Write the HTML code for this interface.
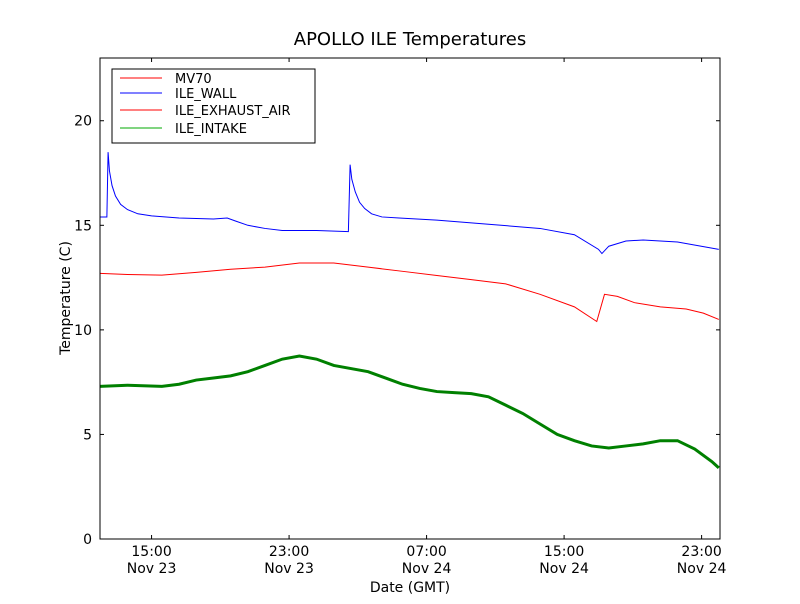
<!DOCTYPE html>
<html><head><meta charset="utf-8"><style>
body{margin:0;background:#fff;font-family:"DejaVu Sans","Liberation Sans",sans-serif}
svg text{font-family:"DejaVu Sans","Liberation Sans",sans-serif}
</style></head><body>
<svg id="c" width="800" height="600">
<rect x="0" y="0" width="800" height="600" fill="#fff"/>
<text x="410" y="45" font-size="18" text-anchor="middle">APOLLO ILE Temperatures</text>
<g id="plot"></g>
<text x="410" y="592" font-size="14" text-anchor="middle">Date (GMT)</text>
<text transform="translate(70,298) rotate(-90)" font-size="14" text-anchor="middle">Temperature (C)</text>
<g>
<rect x="112" y="69" width="203" height="74" fill="#fff" stroke="#000"/>
<line x1="120" y1="78" x2="162" y2="78" stroke="red"/><text x="175" y="83" font-size="13">MV70</text>
<line x1="120" y1="93" x2="162" y2="93" stroke="blue"/><text x="175" y="98" font-size="13">ILE_WALL</text>
<line x1="120" y1="110" x2="162" y2="110" stroke="red"/><text x="175" y="115" font-size="13">ILE_EXHAUST_AIR</text>
<line x1="120" y1="128" x2="162" y2="128" stroke="#0a0"/><text x="175" y="133" font-size="13">ILE_INTAKE</text>
</g>
</svg>
<script>
const wallX=[12.0,12.4,12.47,12.55,12.7,12.9,13.2,13.6,14.2,15,16.6,18.6,19.4,19.9,20.6,21.6,22.6,24.6,26.45,26.55,26.65,26.85,27.1,27.4,27.8,28.4,29.4,31.6,34.6,37.6,39.6,41.0,41.2,41.6,42.6,43.6,45.6,48.0];
const wallY=[15.4,15.4,18.5,17.6,16.9,16.4,16.0,15.75,15.55,15.45,15.35,15.3,15.35,15.2,15.0,14.85,14.75,14.75,14.7,17.9,17.2,16.6,16.1,15.8,15.55,15.4,15.35,15.25,15.05,14.85,14.55,13.85,13.65,14.0,14.25,14.3,14.2,13.85];
const exhX=[12.0,13.6,15.6,17.6,19.6,21.6,23.6,25.6,27.6,29.6,31.6,33.6,35.6,37.6,39.6,40.9,41.35,42.1,43.1,44.6,46.1,47.1,48.0];
const exhY=[12.7,12.65,12.62,12.75,12.9,13.0,13.2,13.2,13.0,12.8,12.6,12.4,12.2,11.7,11.1,10.4,11.7,11.6,11.3,11.1,11.0,10.8,10.5];
const intX=[12.0,13.6,15.6,16.6,17.6,18.6,19.6,20.6,21.6,22.6,23.6,24.6,25.6,26.6,27.6,28.6,29.6,30.6,31.6,32.6,33.6,34.6,35.6,36.6,37.6,38.6,39.6,40.6,41.6,42.6,43.6,44.6,45.6,46.6,47.6,48.0];
const intY=[7.3,7.35,7.3,7.4,7.6,7.7,7.8,8.0,8.3,8.6,8.75,8.6,8.3,8.15,8.0,7.7,7.4,7.2,7.05,7.0,6.95,6.8,6.4,6.0,5.5,5.0,4.7,4.45,4.35,4.45,4.55,4.7,4.7,4.3,3.7,3.4];
const yTicks=[0,5,10,15,20];
const xTicks=[15,23,31,39,47];
const xTickLabels=[["15:00","Nov 23"],["23:00","Nov 23"],["07:00","Nov 24"],["15:00","Nov 24"],["23:00","Nov 24"]];
const X0=100,X1=720,Y0=539,Y1=58,xmin=12.0,xmax=48.07,ymin=0,ymax=23;
const sx=v=>X0+(v-xmin)/(xmax-xmin)*(X1-X0);
const sy=v=>Y0-(v-ymin)/(ymax-ymin)*(Y0-Y1);
const NS="http://www.w3.org/2000/svg",g=document.getElementById('plot');
function mk(t,a){const e=document.createElementNS(NS,t);for(const k in a)e.setAttribute(k,a[k]);g.appendChild(e);return e;}
function line(xs,ys,col,w,name){
 const p=mk('polyline',{points:xs.map((x,i)=>sx(x)+','+sy(ys[i])).join(' '),fill:'none',stroke:col,'stroke-width':w});
 
 
}
line(exhX,exhY,'red',1,'exhaust-air-line');
line(wallX,wallY,'blue',1,'wall-line');
line(intX,intY,'green',3,'intake-line');
const fr=mk('rect',{x:X0,y:Y1,width:X1-X0,height:Y0-Y1,fill:'none',stroke:'#000'});


yTicks.forEach(v=>{const y=sy(v);
 mk('line',{x1:X0,y1:y,x2:X0+4,y2:y,stroke:'#000'});mk('line',{x1:X1,y1:y,x2:X1-4,y2:y,stroke:'#000'});
 const t=mk('text',{x:X0-8,y:y+5,'font-size':14,'text-anchor':'end'});t.textContent=v;
 
 });
xTicks.forEach((v,i)=>{const x=sx(v);
 mk('line',{x1:x,y1:Y0,x2:x,y2:Y0-4,stroke:'#000'});mk('line',{x1:x,y1:Y1,x2:x,y2:Y1+4,stroke:'#000'});
 xTickLabels[i].forEach((s,j)=>{const t=mk('text',{x:x,y:556+j*17,'font-size':14,'text-anchor':'middle'});t.textContent=s;
 
 });});
</script>
</body></html>
